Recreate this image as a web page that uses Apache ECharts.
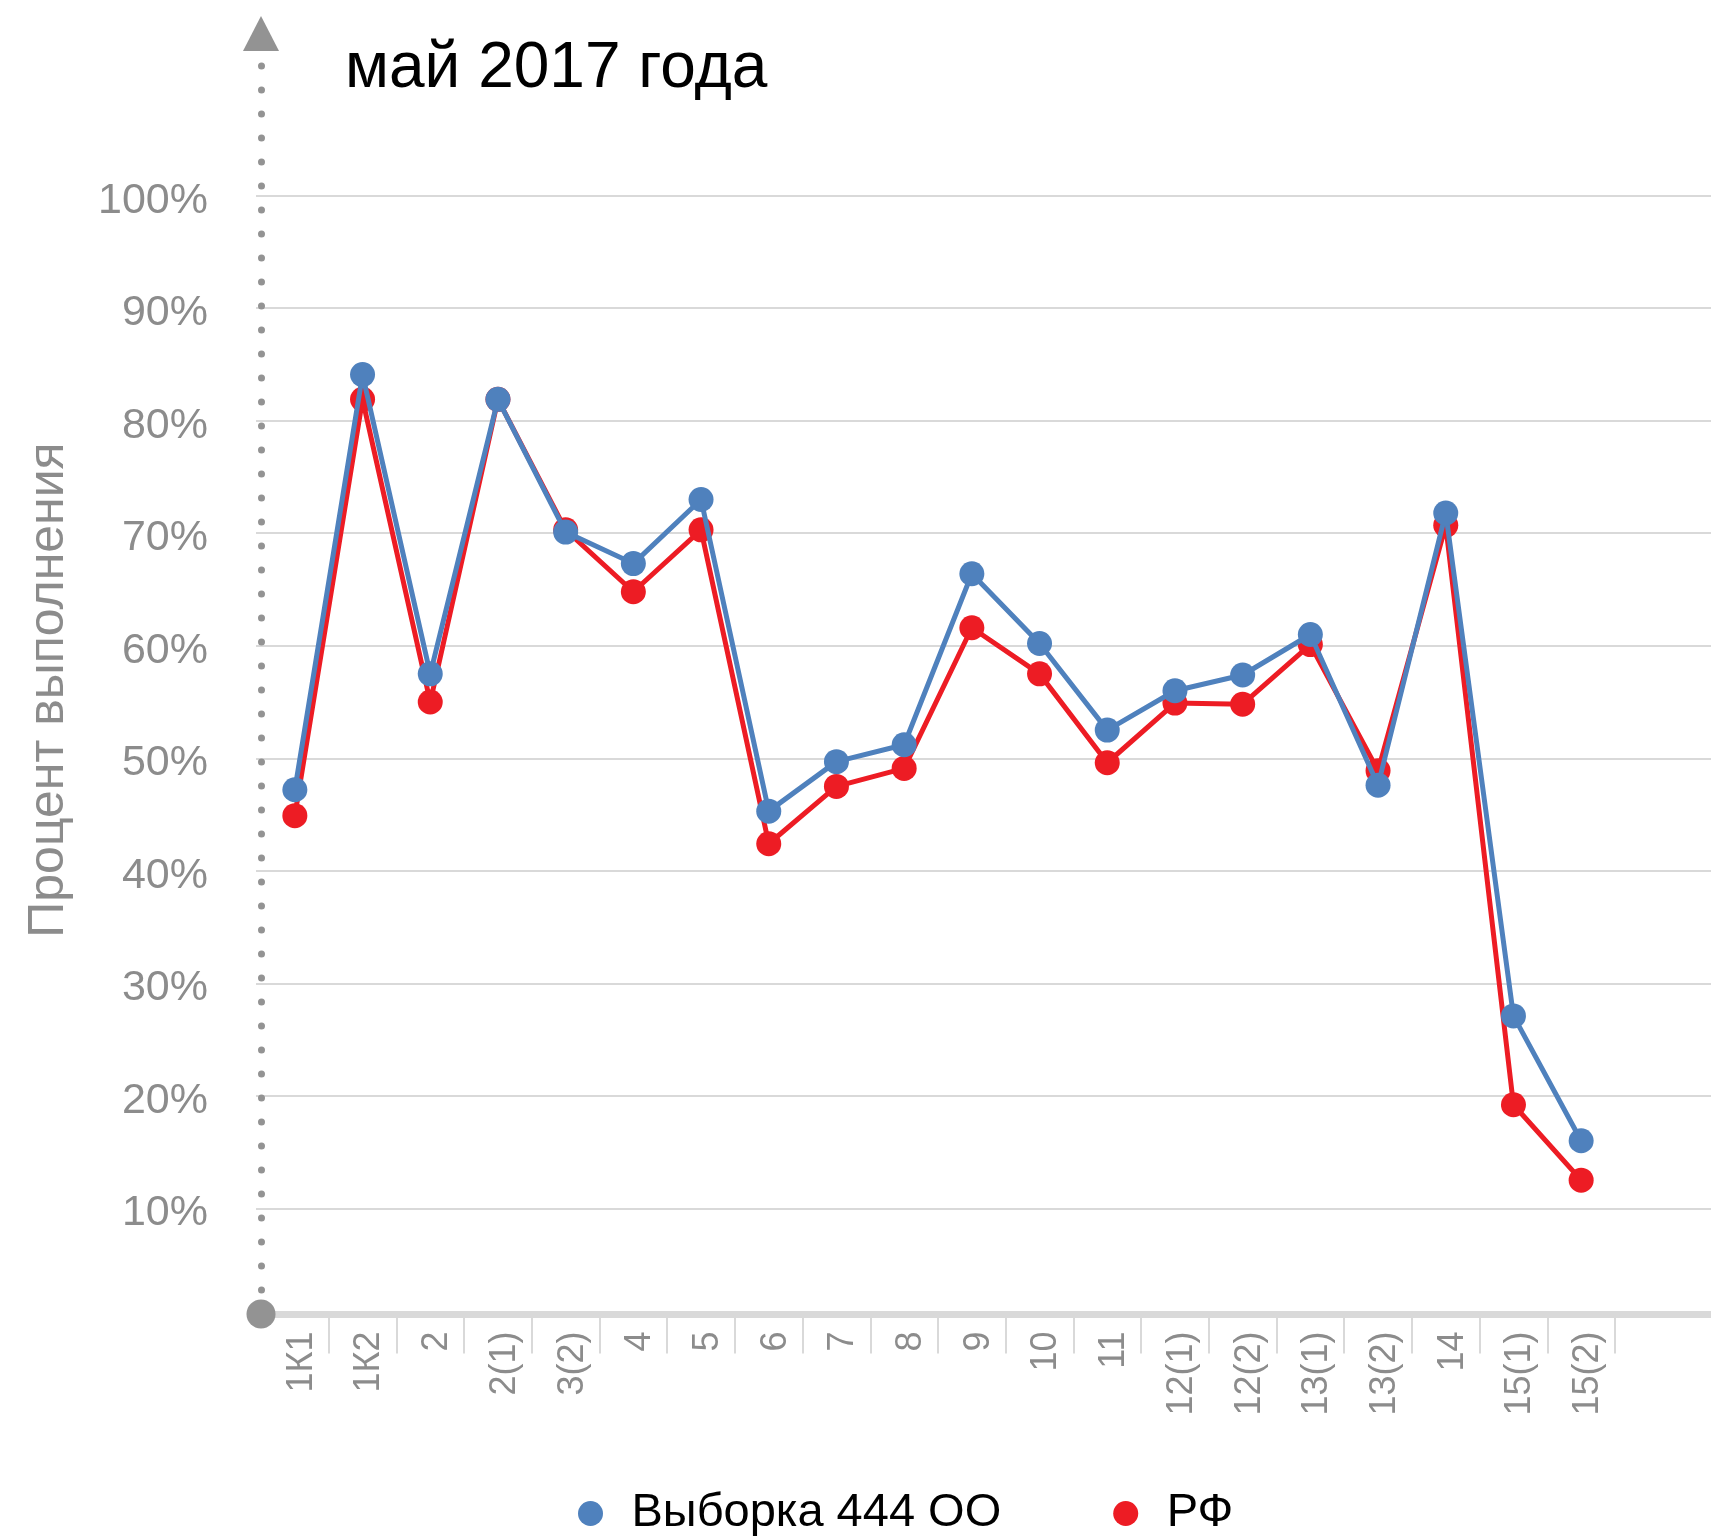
<!DOCTYPE html>
<html>
<head>
<meta charset="utf-8">
<script src="https://cdn.jsdelivr.net/npm/echarts@6/dist/echarts.min.js"></script>
<style>
html,body{margin:0;padding:0;background:#fff;}
#chart{width:1711px;height:1536px;}
</style>
</head>
<body>
<div id="chart"></div>
<script>
const categories = ['1К1','1К2','2','2(1)','3(2)','4','5','6','7','8','9','10','11','12(1)','12(2)','13(1)','13(2)','14','15(1)','15(2)'];
const sampleName = 'Выборка 444 ОО';
const rfName = 'РФ';
const sampleValues = [47.2, 84.1, 57.5, 81.9, 70.1, 67.3, 73.0, 45.3, 49.7, 51.2, 66.4, 60.2, 52.5, 56.0, 57.4, 61.0, 47.6, 71.8, 27.1, 16.0];
const rfValues = [44.9, 81.9, 55.0, 81.9, 70.3, 64.8, 70.3, 42.4, 47.5, 49.1, 61.6, 57.5, 49.6, 54.9, 54.8, 60.1, 48.9, 70.7, 19.2, 12.5];
const yTicks = { min: 0, max: 100, interval: 10 };
const titleText = 'май 2017 года';
const yTitle = 'Процент выполнения';

const FONT = 'Liberation Sans';
const GRAY = '#8c8c8c';
const AXIS_GRAY = '#939393';
const LIGHT = '#d9d9d9';

const plotTop = 195.7, zeroY = 1320.8;
const chart = echarts.init(document.getElementById('chart'), null, {renderer: 'canvas'});
chart.setOption({
  animation: false,
  backgroundColor: '#fff',
  title: {
    text: titleText, left: 340, top: 32,
    textStyle: {fontFamily: FONT, fontSize: 64, fontWeight: 'normal', color: '#000'}
  },
  legend: {
    data: [sampleName, rfName],
    left: 573, top: 1485,
    icon: 'circle', itemWidth: 72, itemHeight: 25, itemGap: 112,
    textStyle: {fontFamily: FONT, fontSize: 47, color: '#000'}
  },
  graphic: [{
    type: 'text', x: 49, y: 690, rotation: Math.PI / 2,
    style: {text: yTitle, fill: GRAY, font: '50px "Liberation Sans"', align: 'center', verticalAlign: 'middle'}
  }],
  grid: [
    {left: 261, right: 0, top: 33.5, height: 1314 - 33.5},
    {left: 261, width: 1354, top: plotTop, height: zeroY - plotTop},
    {left: 256, right: 0, top: plotTop, height: zeroY - plotTop}
  ],
  xAxis: [
    {gridIndex: 0, type: 'value', min: 0, max: 1,
     axisLine: {show: true, lineStyle: {color: LIGHT, width: 7}},
     axisTick: {show: false}, axisLabel: {show: false}, splitLine: {show: false}},
    {gridIndex: 1, type: 'category', data: categories, boundaryGap: true, offset: -6.3,
     axisLine: {show: false},
     axisTick: {show: true, length: 39, lineStyle: {color: LIGHT, width: 2},
       interval: function (i) { return i !== 0; }},
     axisLabel: {rotate: 90, margin: 17, verticalAlign: 'top', lineHeight: 14, fontFamily: FONT, fontSize: 36, color: GRAY, interval: 0},
     splitLine: {show: false}},
    {gridIndex: 2, type: 'value', min: 0, max: 1, show: false}
  ],
  yAxis: [
    {gridIndex: 0, type: 'value', min: 0, max: 1, position: 'left',
     axisLine: {show: true, symbol: ['none', 'triangle'], symbolSize: [36, 35],
       lineStyle: {color: AXIS_GRAY, width: 7, type: [0.1, 23.9], cap: 'round'}},
     axisTick: {show: false}, axisLabel: {show: false}, splitLine: {show: false}},
    {gridIndex: 0, type: 'value', min: 0, max: 1, position: 'left',
     axisLine: {show: true, symbol: ['circle', 'none'], symbolSize: [29, 29],
       lineStyle: {color: AXIS_GRAY, width: 1, opacity: 0}},
     axisTick: {show: false}, axisLabel: {show: false}, splitLine: {show: false}},
    {gridIndex: 1, type: 'value', min: yTicks.min, max: yTicks.max, interval: yTicks.interval,
     axisLine: {show: false}, axisTick: {show: false}, splitLine: {show: false},
     axisLabel: {formatter: '{value}%', showMinLabel: false, margin: 53, verticalAlign: 'top', lineHeight: 10, fontFamily: FONT, fontSize: 43, color: GRAY}},
    {gridIndex: 2, type: 'value', min: yTicks.min, max: yTicks.max, interval: yTicks.interval,
     axisLine: {show: false}, axisTick: {show: false}, axisLabel: {show: false},
     splitLine: {show: true, showMinLine: false, lineStyle: {color: LIGHT, width: 2}}}
  ],
  series: [
    {name: rfName, type: 'line', xAxisIndex: 1, yAxisIndex: 2, data: rfValues, z: 3,
     symbol: 'circle', symbolSize: 25, showSymbol: true,
     lineStyle: {color: '#ed1c24', width: 5}, itemStyle: {color: '#ed1c24'}},
    {name: sampleName, type: 'line', xAxisIndex: 1, yAxisIndex: 2, data: sampleValues, z: 4,
     symbol: 'circle', symbolSize: 25, showSymbol: true,
     lineStyle: {color: '#4f81bd', width: 5}, itemStyle: {color: '#4f81bd'}}
  ]
});
</script>
</body>
</html>
